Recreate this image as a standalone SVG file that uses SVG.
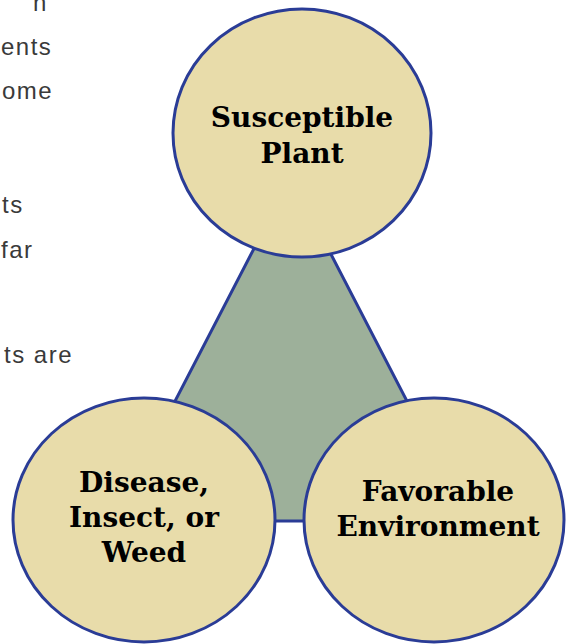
<svg xmlns="http://www.w3.org/2000/svg" width="567" height="644" viewBox="0 0 567 644">
  <style>
    .node { fill: #e8dcaa; stroke: #2a3c96; stroke-width: 3; }
    .label { font-family: "DejaVu Serif", "Liberation Serif", serif; font-weight: bold; font-size: 28px; fill: #000; text-anchor: middle; }
    .frag { font-family: "Liberation Sans", "DejaVu Sans", sans-serif; font-size: 24px; letter-spacing: 1.5px; fill: #3a3a3a; }
  </style>
  <rect x="0" y="0" width="567" height="644" fill="#ffffff"/>
  <g id="page-text">
    <text class="frag" x="33" y="11">n</text>
    <text class="frag" x="1" y="55">ents</text>
    <text class="frag" x="2" y="99">ome</text>
    <text class="frag" x="2" y="213">ts</text>
    <text class="frag" x="1" y="258">far</text>
    <text class="frag" x="4" y="363">ts are</text>
  </g>
  <g id="triangle">
    <polygon points="291,177 113,521 469,521" fill="#9db09a" stroke="#2a3c96" stroke-width="3" stroke-linejoin="miter"/>
  </g>
  <g id="susceptible-plant">
    <ellipse class="node" cx="302" cy="133" rx="129" ry="124"/>
    <text class="label" x="302" y="127">Susceptible</text>
    <text class="label" x="302" y="163">Plant</text>
  </g>
  <g id="disease-insect-weed">
    <ellipse class="node" cx="144" cy="520" rx="131" ry="122"/>
    <text class="label" x="144" y="492">Disease,</text>
    <text class="label" x="144" y="527">Insect, or</text>
    <text class="label" x="144" y="562">Weed</text>
  </g>
  <g id="favorable-environment">
    <ellipse class="node" cx="434" cy="520" rx="130" ry="122"/>
    <text class="label" x="438" y="501">Favorable</text>
    <text class="label" x="438" y="536">Environment</text>
  </g>
</svg>
